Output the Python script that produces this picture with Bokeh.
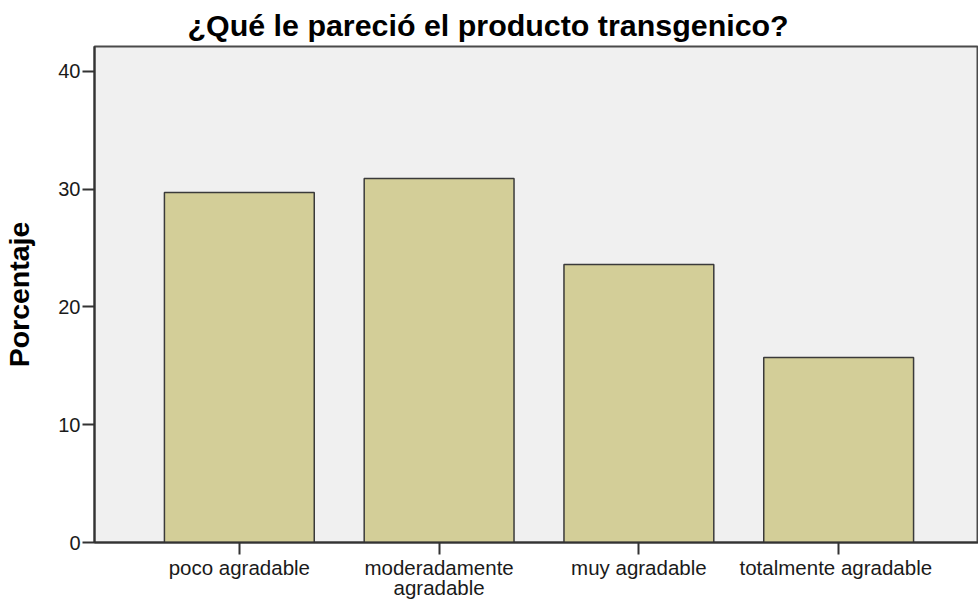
from bokeh.plotting import figure
from bokeh.models import Range1d, FixedTicker, Title
from bokeh.embed import file_html
from bokeh.resources import INLINE

# Data
categories = ["poco agradable", "moderadamente\nagradable", "muy agradable", "totalmente  agradable"]
porcentaje = [29.7, 30.9, 23.6, 15.7]
y_ticks = [0, 10, 20, 30, 40]

positions = list(range(len(categories)))

p = figure(
    width=978, height=602,
    output_backend="svg", toolbar_location=None,
    x_range=Range1d(-0.725, 3.7), y_range=Range1d(0, 42.1),
    min_border_left=93, min_border_right=0, min_border_top=45, min_border_bottom=59,
)
p.title = Title(text="¿Qué le pareció el producto transgenico?", align="left",
                text_font="Liberation Sans", text_font_size="30.4px", text_font_style="bold",
                text_color="#000000", offset=93, standoff=10)

p.background_fill_color = "#F0F0F0"
p.border_fill_color = "#FFFFFF"
p.outline_line_color = "#4a4a4a"
p.outline_line_width = 2
p.grid.visible = False

p.vbar(x=positions, top=porcentaje, width=0.75, bottom=0,
       fill_color="#D3CE98", line_color="#3a3a3a", line_width=1.5)

# X axis
xa = p.xaxis[0]
xa.ticker = FixedTicker(ticks=positions)
xa.major_label_overrides = {i: c for i, c in zip(positions, categories)}
xa.major_tick_out = 12
xa.major_tick_in = 0
xa.minor_tick_out = 0
xa.minor_tick_in = 0
xa.axis_line_color = "#333333"
xa.axis_line_width = 2
xa.major_tick_line_color = "#333333"
xa.major_tick_line_width = 2
xa.major_label_text_font = "Liberation Sans"
xa.major_label_text_font_size = "20.5px"
xa.major_label_text_color = "#1a1a1a"
xa.major_label_text_line_height = 0.9
xa.major_label_standoff = 1

# Y axis
ya = p.yaxis[0]
ya.ticker = FixedTicker(ticks=y_ticks)
ya.axis_label = "Porcentaje"
ya.axis_label_text_font = "Liberation Sans"
ya.axis_label_text_font_size = "28.5px"
ya.axis_label_text_font_style = "bold"
ya.axis_label_text_color = "#000000"
ya.axis_label_standoff = 20
ya.major_tick_out = 12
ya.major_tick_in = 0
ya.minor_tick_out = 0
ya.minor_tick_in = 0
ya.axis_line_color = "#333333"
ya.axis_line_width = 2
ya.major_tick_line_color = "#333333"
ya.major_tick_line_width = 2
ya.major_label_text_font = "Liberation Sans"
ya.major_label_text_font_size = "20px"
ya.major_label_text_color = "#1a1a1a"
ya.major_label_standoff = 2

open("out.html", "w").write(file_html(p, INLINE))
